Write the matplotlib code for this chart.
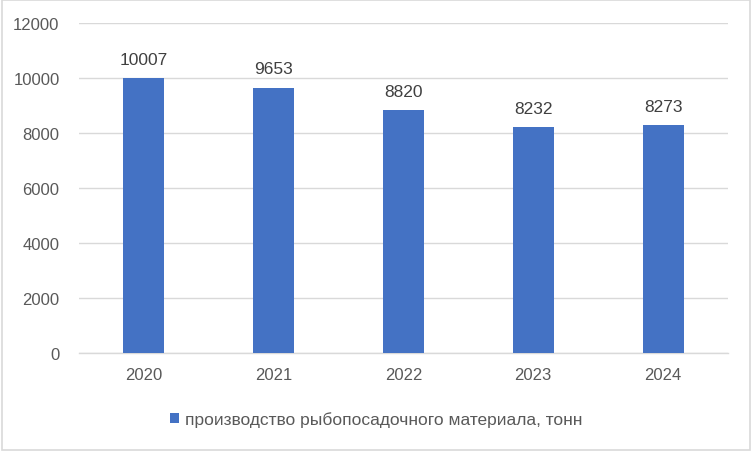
import matplotlib.pyplot as plt
from matplotlib.patches import Rectangle

# данные
years = ["2020", "2021", "2022", "2023", "2024"]
values = [10007, 9653, 8820, 8232, 8273]
series_name = "производство рыбопосадочного материала, тонн"

bar_color = "#4472C4"
text_color = "#595959"
grid_color = "#D9D9D9"

plt.rcParams["font.family"] = ["Liberation Sans", "DejaVu Sans"]

fig = plt.figure(figsize=(7.52, 4.52), dpi=100)
ax = fig.add_axes([0.105, 0.2168, 0.863, 0.7301])

x = range(len(years))
bars = ax.bar(x, values, width=0.316, color=bar_color, zorder=3,
              label=series_name)
ax.bar_label(bars, labels=[str(v) for v in values], padding=8,
             fontsize=12.5, color="#404040")

ax.set_xlim(-0.5, len(years) - 0.5)
ax.set_ylim(0, 12000)
ax.set_yticks(range(0, 12001, 2000))
ax.set_xticks(list(x))
ax.set_xticklabels(years)
ax.yaxis.grid(True, color=grid_color, linewidth=1, zorder=0)
ax.tick_params(axis="both", length=0, labelsize=12, colors=text_color)
ax.tick_params(axis="y", pad=14)
ax.tick_params(axis="x", pad=10)
for s in ["top", "right", "left"]:
    ax.spines[s].set_visible(False)
ax.spines["bottom"].set_color(grid_color)
ax.spines["bottom"].set_linewidth(1)

leg = fig.legend(loc="center", bbox_to_anchor=(0.5, 0.07), frameon=False,
                 fontsize=12.5, handlelength=0.55, handleheight=0.55,
                 handletextpad=0.3, labelcolor=text_color)

# рамка вокруг диаграммы
fig.patches.append(Rectangle((0.002, 0.003), 0.996, 0.994, transform=fig.transFigure,
                             fill=False, edgecolor=grid_color, linewidth=1.2))

fig.savefig("out.png", dpi=100)
